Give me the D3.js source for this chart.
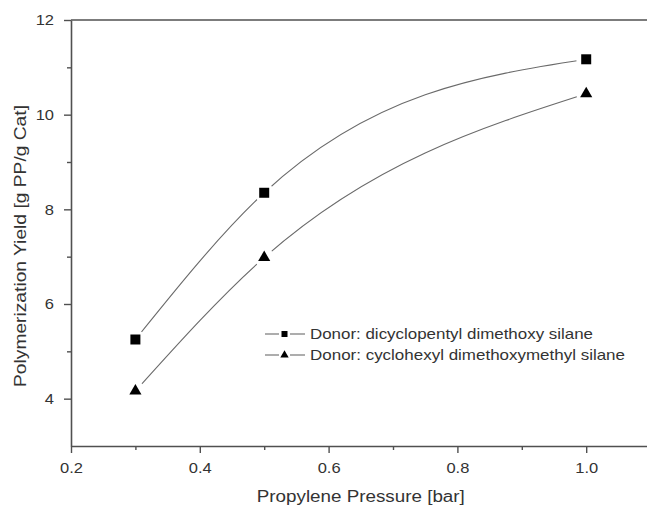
<!DOCTYPE html>
<html>
<head>
<meta charset="utf-8">
<script src="https://cdn.jsdelivr.net/npm/d3@7"></script>
<style>
  html, body { margin: 0; padding: 0; background: #fff; }
  svg { display: block; font-family: "Liberation Sans", Arial, sans-serif; }
</style>
</head>
<body>
<svg id="chart" width="647" height="509"></svg>
<script>
// Propylene pressure (bar) and polymerization yield (g PP / g Cat) per donor
const pressure = [0.3, 0.5, 1.0];
const yieldDicyclopentyl = [5.25, 8.35, 11.17];
const yieldCyclohexyl = [4.16, 6.98, 10.44];
const seriesNames = [
  "Donor: dicyclopentyl dimethoxy silane",
  "Donor: cyclohexyl dimethoxymethyl silane"
];
const xMajorTicks = [0.2, 0.4, 0.6, 0.8, 1.0];
const xMinorTicks = [0.3, 0.5, 0.7, 0.9];
const yMajorTicks = [4, 6, 8, 10, 12];
const yMinorTicks = [5, 7, 9, 11];

const series = [
  { name: seriesNames[0], values: yieldDicyclopentyl, symbol: d3.symbolSquare, size: 100, legendSize: 36 },
  { name: seriesNames[1], values: yieldCyclohexyl, symbol: d3.symbolTriangle, size: 64, legendSize: 30 }
];

const svg = d3.select("#chart");
const axisColor = "#505050";
const textColor = "#333";
const fontFamily = "'Liberation Sans', Arial, sans-serif";
const plotLeft = 71, plotRight = 650.6, plotTop = 20, plotBottom = 446;

const x = d3.scaleLinear().domain([0.2, 1.1]).range([plotLeft, plotRight]);
const y = d3.scaleLinear().domain([3, 12]).range([plotBottom, plotTop]);

// Natural cubic spline in x (y as a function of x), emitted as Bezier segments
function curveNaturalX(context) {
  let xs, ys;
  return {
    areaStart() {}, areaEnd() {},
    lineStart() { xs = []; ys = []; },
    point(px, py) { xs.push(+px); ys.push(+py); },
    lineEnd() {
      const n = xs.length;
      if (!n) return;
      context.moveTo(xs[0], ys[0]);
      if (n === 1) return;
      const h = d3.range(n - 1).map(i => xs[i + 1] - xs[i]);
      const M = new Array(n).fill(0);
      if (n > 2) {
        // Thomas algorithm for the interior second derivatives
        const a = [], b = [], c = [], r = [];
        for (let i = 1; i < n - 1; i++) {
          a.push(h[i - 1]); b.push(2 * (h[i - 1] + h[i])); c.push(h[i]);
          r.push(6 * ((ys[i + 1] - ys[i]) / h[i] - (ys[i] - ys[i - 1]) / h[i - 1]));
        }
        const m = b.length;
        for (let i = 1; i < m; i++) {
          const w = a[i] / b[i - 1];
          b[i] -= w * c[i - 1]; r[i] -= w * r[i - 1];
        }
        const sol = new Array(m);
        sol[m - 1] = r[m - 1] / b[m - 1];
        for (let i = m - 2; i >= 0; i--) sol[i] = (r[i] - c[i] * sol[i + 1]) / b[i];
        for (let i = 0; i < m; i++) M[i + 1] = sol[i];
      }
      for (let i = 0; i < n - 1; i++) {
        const s = (ys[i + 1] - ys[i]) / h[i];
        const m0 = s - h[i] * (2 * M[i] + M[i + 1]) / 6;
        const m1 = s + h[i] * (M[i] + 2 * M[i + 1]) / 6;
        const d = h[i] / 3;
        context.bezierCurveTo(xs[i] + d, ys[i] + d * m0,
                              xs[i + 1] - d, ys[i + 1] - d * m1,
                              xs[i + 1], ys[i + 1]);
      }
    }
  };
}

// Widen rendered text horizontally by a factor
function widen(sel, factor) {
  sel.each(function () {
    const w = this.getComputedTextLength();
    d3.select(this).attr("textLength", w * factor).attr("lengthAdjust", "spacingAndGlyphs");
  });
}
function fitWidth(sel, width) {
  sel.attr("textLength", width).attr("lengthAdjust", "spacingAndGlyphs");
}

// Gaps around each data marker, applied to the connecting curves
const defs = svg.append("defs");
const mask = defs.append("mask").attr("id", "markerGap")
  .attr("maskUnits", "userSpaceOnUse")
  .attr("x", 0).attr("y", 0).attr("width", 647).attr("height", 509);
mask.append("rect").attr("width", 647).attr("height", 509).attr("fill", "#fff");
series.forEach(s => {
  mask.selectAll(null).data(pressure.map((p, i) => [p, s.values[i]])).enter()
    .append("circle")
    .attr("cx", d => x(d[0])).attr("cy", d => y(d[1]))
    .attr("r", 10).attr("fill", "#000");
});

// Axes
function styleAxis(g) {
  g.selectAll(".domain").attr("stroke", axisColor).attr("stroke-width", 1.6);
  g.selectAll(".tick line").attr("stroke", axisColor).attr("stroke-width", 1.4);
  g.selectAll(".tick text").attr("fill", textColor).attr("font-size", 15)
    .attr("font-family", fontFamily);
}

svg.append("g").attr("transform", `translate(0,${plotBottom})`)
  .call(d3.axisBottom(x).tickValues(xMinorTicks).tickSize(4).tickFormat(""))
  .call(g => g.select(".domain").remove())
  .call(styleAxis);
const xAxisG = svg.append("g").attr("transform", `translate(0,${plotBottom})`)
  .call(d3.axisBottom(x).tickValues(xMajorTicks).tickSize(7).tickSizeOuter(0)
    .tickPadding(9).tickFormat(d3.format(".1f")))
  .call(styleAxis);

svg.append("g").attr("transform", `translate(${plotLeft},0)`)
  .call(d3.axisLeft(y).tickValues(yMinorTicks).tickSize(4).tickFormat(""))
  .call(g => g.select(".domain").remove())
  .call(styleAxis);
const yAxisG = svg.append("g").attr("transform", `translate(${plotLeft},0)`)
  .call(d3.axisLeft(y).tickValues(yMajorTicks).tickSize(7).tickSizeOuter(0)
    .tickPadding(10).tickFormat(d3.format("d")))
  .call(styleAxis);
widen(xAxisG.selectAll(".tick text"), 1.1);
widen(yAxisG.selectAll(".tick text"), 1.1);

// Top frame line
svg.append("line")
  .attr("x1", plotLeft).attr("x2", plotRight).attr("y1", y(12)).attr("y2", y(12))
  .attr("stroke", axisColor).attr("stroke-width", 1.6);

// Axis titles
svg.append("text")
  .attr("x", (plotLeft + plotRight) / 2).attr("y", 502)
  .attr("text-anchor", "middle").attr("fill", textColor).attr("font-size", 16)
  .text("Propylene Pressure [bar]")
  .call(fitWidth, 208);
svg.append("text")
  .attr("transform", `translate(26,246) rotate(-90)`)
  .attr("text-anchor", "middle").attr("fill", textColor).attr("font-size", 17)
  .text("Polymerization Yield [g PP/g Cat]")
  .call(fitWidth, 282);

// Curves and markers
const line = d3.line().x(d => x(d[0])).y(d => y(d[1])).curve(curveNaturalX);
series.forEach(s => {
  const pts = pressure.map((p, i) => [p, s.values[i]]);
  svg.append("path").datum(pts)
    .attr("d", line).attr("fill", "none")
    .attr("stroke", "#6a6a6a").attr("stroke-width", 1.1)
    .attr("mask", "url(#markerGap)");
  svg.selectAll(null).data(pts).enter().append("path")
    .attr("transform", d => `translate(${x(d[0])},${y(d[1])})`)
    .attr("d", d3.symbol(s.symbol, s.size))
    .attr("fill", "#000");
});

// Legend
const legendWidths = [283, 315];
const legend = svg.append("g");
series.forEach((s, i) => {
  const row = legend.append("g").attr("transform", `translate(0,${334 + i * 21})`);
  row.append("line").attr("x1", 265).attr("x2", 279).attr("y1", 0).attr("y2", 0)
    .attr("stroke", "#6a6a6a").attr("stroke-width", 1.1);
  row.append("line").attr("x1", 290).attr("x2", 305).attr("y1", 0).attr("y2", 0)
    .attr("stroke", "#6a6a6a").attr("stroke-width", 1.1);
  row.append("path").attr("transform", "translate(284.5,0)")
    .attr("d", d3.symbol(s.symbol, s.legendSize)).attr("fill", "#000");
  row.append("text").attr("x", 310).attr("y", 0).attr("dy", "0.35em")
    .attr("fill", textColor).attr("font-size", 15)
    .text(s.name)
    .call(fitWidth, legendWidths[i]);
});
</script>
</body>
</html>
